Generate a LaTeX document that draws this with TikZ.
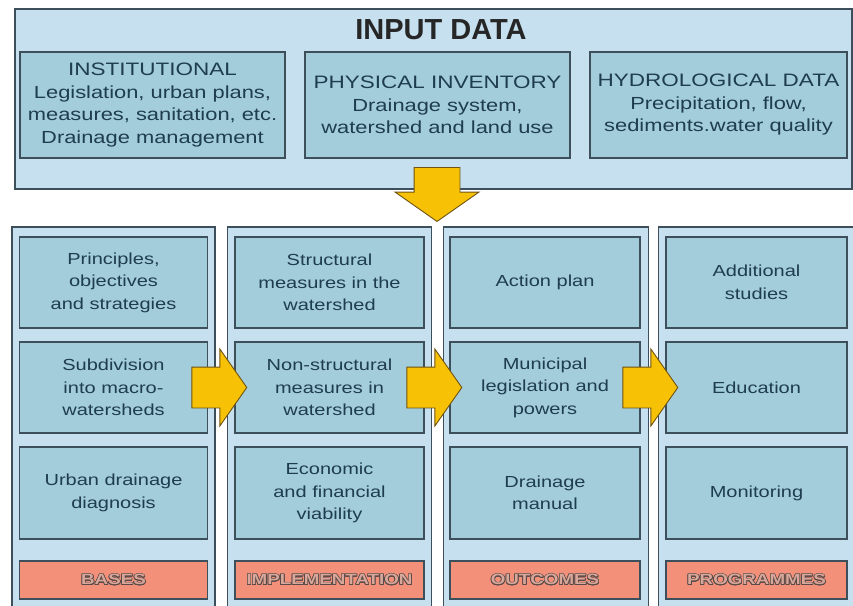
\documentclass[tikz,border=0pt]{standalone}
\usepackage{fontspec}
\setmainfont{Liberation Sans}[FakeStretch=1.25]
\newfontfamily\headfont{Liberation Sans}[FakeStretch=1.0]
\usepackage{xcolor}
\usepackage{contour}
\contourlength{0.7pt}
\usepackage{tikz}
\usetikzlibrary{positioning,calc,shapes.arrows}

\definecolor{paleblue}{HTML}{C6E0F0}
\definecolor{cellblue}{HTML}{A4CDDC}
\definecolor{edgegray}{HTML}{3D4F5A}
\definecolor{tagred}{HTML}{F2907A}
\definecolor{tagfill}{HTML}{D9A79A}
\definecolor{tagline}{HTML}{5A4A48}
\definecolor{inktext}{HTML}{1E3D4E}
\definecolor{flowyellow}{HTML}{F7C205}
\definecolor{flowedge}{HTML}{6E5312}

\newcommand{\tagtext}[1]{\contour{tagline}{\textcolor{tagfill}{#1}}}

\begin{document}
\begin{tikzpicture}[x=1pt, y=-1pt,
  outerbox/.style={draw=edgegray, line width=1.6pt, fill=paleblue, inner sep=0pt},
  cell/.style={draw=edgegray, line width=1.3pt, fill=cellblue, inner sep=0pt,
    align=center, text=inktext, font=\fontsize{16}{22.5}\selectfont},
  datacell/.style={cell, minimum height=106pt, font=\fontsize{17.5}{22.5}\selectfont},
  tagbox/.style={draw=edgegray, line width=1.3pt, fill=tagred, inner sep=0pt,
    minimum height=38pt, font=\fontsize{15}{15}\selectfont\bfseries},
  flowarrow/.style={single arrow, draw=flowedge, line width=0.9pt, fill=flowyellow,
    inner sep=0pt, inner ysep=20pt, minimum height=55pt, anchor=tip,
    single arrow head extend=18pt, single arrow tip angle=110}]
\clip (0,0) rectangle (853,605);
\useasboundingbox (0,0) rectangle (853,605);
% ================= input data =================
\node[outerbox, minimum width=837pt, minimum height=180pt, anchor=north west]
  (input) at (14,8) {};
\node[font=\headfont\fontsize{29}{29}\selectfont\bfseries, text=black!85]
  (title) at (441,30) {INPUT DATA};
\node[datacell, minimum width=265pt] (inst) at (152.5,105)
  {{\fontsize{18}{22.5}\selectfont INSTITUTIONAL}\\Legislation, urban plans,\\
   measures, sanitation, etc.\\Drainage management};
\node[datacell, minimum width=265pt] (phys) at (437.5,105)
  {{\fontsize{18}{22.5}\selectfont PHYSICAL INVENTORY}\\Drainage system,\\
   watershed and land use};
\node[datacell, minimum width=257pt] (hydro) at (718.5,105)
  {{\fontsize{18}{22.5}\selectfont HYDROLOGICAL DATA}\\Precipitation, flow,\\
   sediments.water quality};
% down arrow into the plan
\node[flowarrow, inner ysep=22.5pt, minimum height=54pt,
  single arrow head extend=19pt, rotate=-90] (fdown) at (437,222) {};
% ================= the four columns =================
\foreach \k/\xc/\w in {1/113.5/203, 2/329.5/204, 3/546/205, 4/757/197}
  \node[outerbox, fill=paleblue, minimum width=\w pt, minimum height=400pt,
    anchor=north] (col\k) at (\xc,226) {};
% --- bases ---
\node[cell, minimum width=188pt, minimum height=91pt] (bas1) at (113.5,282.5)
  {Principles,\\objectives\\and strategies};
\node[cell, minimum width=188pt, minimum height=91pt] (bas2) at (113.5,387.5)
  {Subdivision\\into macro-\\watersheds};
\node[cell, minimum width=188pt, minimum height=92pt] (bas3) at (113.5,493)
  {Urban drainage\\diagnosis};
\node[tagbox, minimum width=188pt] (basT) at (113.5,580) {\tagtext{BASES}};
% --- implementation ---
\node[cell, minimum width=189pt, minimum height=91pt] (imp1) at (329.5,282.5)
  {Structural\\measures in the\\watershed};
\node[cell, minimum width=189pt, minimum height=91pt] (imp2) at (329.5,387.5)
  {Non-structural\\measures in\\watershed};
\node[cell, minimum width=189pt, minimum height=92pt] (imp3) at (329.5,493)
  {Economic\\and financial\\viability};
\node[tagbox, minimum width=189pt] (impT) at (329.5,580) {\tagtext{IMPLEMENTATION}};
% --- outcomes ---
\node[cell, minimum width=190pt, minimum height=91pt] (out1) at (545,282.5)
  {Action plan};
\node[cell, minimum width=190pt, minimum height=91pt] (out2) at (545,387.5)
  {Municipal\\legislation and\\powers};
\node[cell, minimum width=190pt, minimum height=92pt] (out3) at (545,493)
  {Drainage\\manual};
\node[tagbox, minimum width=190pt] (outT) at (545,580) {\tagtext{OUTCOMES}};
% --- programmes ---
\node[cell, minimum width=181pt, minimum height=91pt] (prg1) at (756.5,282.5)
  {Additional\\studies};
\node[cell, minimum width=181pt, minimum height=91pt] (prg2) at (756.5,387.5)
  {Education};
\node[cell, minimum width=181pt, minimum height=92pt] (prg3) at (756.5,493)
  {Monitoring};
\node[tagbox, minimum width=181pt] (prgT) at (756.5,580) {\tagtext{PROGRAMMES}};
% ================= arrows between columns =================
\node[flowarrow] (fa1) at ($(imp2.west)+(13,0)$) {};
\node[flowarrow] (fa2) at ($(out2.west)+(13,0)$) {};
\node[flowarrow] (fa3) at ($(prg2.west)+(13,0)$) {};
\end{tikzpicture}
\end{document}
